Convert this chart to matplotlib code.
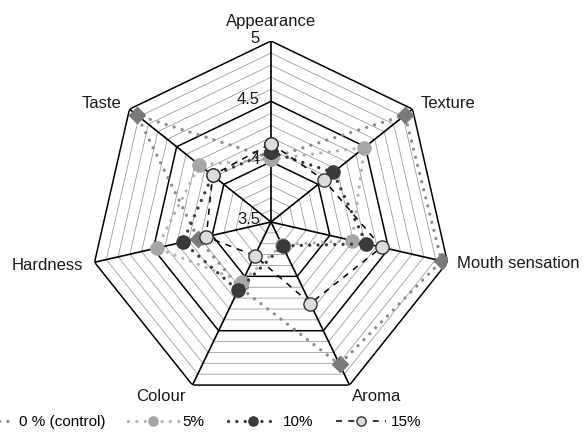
import numpy as np
import matplotlib
matplotlib.use('Agg')
import matplotlib.pyplot as plt

plt.rcParams['font.family'] = ['Liberation Sans', 'DejaVu Sans']

# attributes on the radar, clockwise from the top
categories = ['Appearance', 'Texture', 'Mouth sensation', 'Aroma',
              'Colour', 'Hardness', 'Taste']

# sensory scores
control = [4.03, 4.92, 4.95, 4.81, 4.10, 4.12, 4.92]
five = [4.02, 4.49, 4.19, 3.71, 4.05, 4.47, 4.26]
ten = [4.08, 4.16, 4.31, 3.72, 4.13, 4.25, 4.12]
fifteen = [4.15, 4.06, 4.44, 4.25, 3.81, 4.05, 4.12]

series_names = ['0 % (control)', '5%', '10%', '15%']
tick_values = [3.5, 4.0, 4.5, 5.0]
tick_labels = ['3.5', '4', '4.5', '5']

rmin, rmax = 3.5, 5.0

fig = plt.figure(figsize=(5.83, 4.32), dpi=100)
# center at (271, 222) px, radius 181 px
ax = fig.add_axes([90 / 583, 29 / 432, 362 / 583, 362 / 432], projection='polar')
ax.set_theta_offset(np.pi / 2)
ax.set_theta_direction(-1)
ax.set_ylim(rmin, rmax)
ax.grid(False)
ax.spines['polar'].set_visible(False)
ax.set_xticks([])
ax.set_yticks([])
ax.patch.set_alpha(0)

n = len(categories)
angles = np.arange(n) * 2 * np.pi / n
closed = np.append(angles, angles[0])

# heptagon grid: thin grey minor lines every 0.1, black major ones every 0.5
levels = np.linspace(rmin, rmax, 16)[1:]
for lev in levels:
    major = any(abs(lev - t) < 1e-6 for t in tick_values)
    if major:
        ax.plot(closed, [lev] * (n + 1), color='black', lw=1.1, zorder=1)
    else:
        ax.plot(closed, [lev] * (n + 1), color='#9c9c9c', lw=0.6, zorder=0.5)

# spokes
for a in angles:
    ax.plot([a, a], [rmin, rmax], color='black', lw=1.2, zorder=1)

def close(v):
    return list(v) + [v[0]]

dot = (0, (0.01, 2.5))
ax.plot(closed, close(control), color='#8c8c8c', lw=2.4, linestyle=dot,
        dash_capstyle='round', marker='D', markersize=8.5,
        markerfacecolor='#7a7a7a', markeredgecolor='#7a7a7a',
        label=series_names[0], zorder=3)
ax.plot(closed, close(five), color='#b2b2b2', lw=2.4, linestyle=dot,
        dash_capstyle='round', marker='o', markersize=9.5,
        markerfacecolor='#a6a6a6', markeredgecolor='#a6a6a6',
        label=series_names[1], zorder=4)
ax.plot(closed, close(ten), color='#3c3c3c', lw=2.4, linestyle=dot,
        dash_capstyle='round', marker='o', markersize=9.5,
        markerfacecolor='#3a3a3a', markeredgecolor='#3a3a3a',
        label=series_names[2], zorder=5)
ax.plot(closed, close(fifteen), color='black', lw=1.1, linestyle=(0, (4, 4)),
        marker='o', markersize=9.5, markerfacecolor='#dcdcdc',
        markeredgecolor='#333333', markeredgewidth=1.0,
        label=series_names[3], zorder=6)

# category labels, offsets in points from each outer vertex
offsets = [(0, 14), (6, 4), (7, -1), (2, -8), (-5, -8), (-8, -2), (-6, 4)]
aligns = ['center', 'left', 'left', 'left', 'right', 'right', 'right']
for a, lab, off, ha in zip(angles, categories, offsets, aligns):
    ax.annotate(lab, xy=(a, rmax), xytext=off, textcoords='offset points',
                ha=ha, va='center', fontsize=12, color='#1a1a1a',
                annotation_clip=False)

# radial tick labels left of the top spoke
for t, lab in zip(tick_values, tick_labels):
    ax.annotate(lab, xy=(0, t), xytext=(-8, 1.5), textcoords='offset points',
                ha='right', va='center', fontsize=12, color='#1a1a1a',
                annotation_clip=False)

fig.legend(loc='center left', bbox_to_anchor=(-36 / 583, 10 / 432), ncol=4,
           frameon=False, fontsize=11, handlelength=3.3, handletextpad=0.28,
           columnspacing=1.5, borderpad=0, borderaxespad=0, markerscale=0.7)

fig.savefig('out.png', dpi=100)
